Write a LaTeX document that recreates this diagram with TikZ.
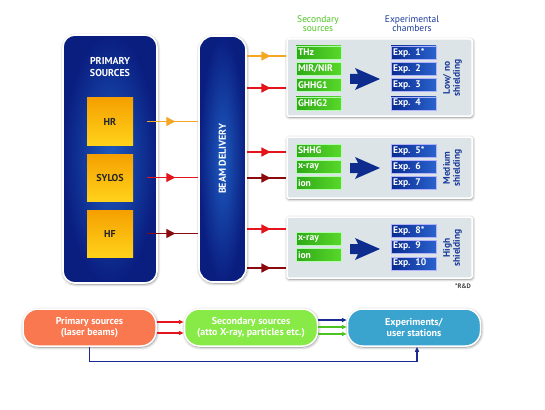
\documentclass[tikz,border=0pt]{standalone}
\usepackage{fontspec}
\setmainfont{PT Sans}
\usetikzlibrary{arrows.meta,decorations.markings,shadows.blur}
\definecolor{navyD}{HTML}{0A1E80}
\definecolor{navyL}{HTML}{1E5BC0}
\definecolor{yelT}{HTML}{F5A000}
\definecolor{yelB}{HTML}{FFD21A}
\definecolor{orangeA}{HTML}{F5A623}
\definecolor{redA}{HTML}{E3141C}
\definecolor{dredA}{HTML}{8A0A0E}
\definecolor{panelC}{HTML}{DDE4E7}
\definecolor{greenL}{HTML}{2FA818}
\definecolor{greenR}{HTML}{58D82A}
\definecolor{expL}{HTML}{0A2C90}
\definecolor{expR}{HTML}{2A62CC}
\definecolor{hdrG}{HTML}{4CC320}
\definecolor{hdrB}{HTML}{1B3A9A}
\definecolor{salmon}{HTML}{F97850}
\definecolor{lime}{HTML}{88EA46}
\definecolor{sky}{HTML}{3AA4CF}
\definecolor{linkB}{HTML}{1A2A90}
\definecolor{arrowB}{HTML}{0D2C8E}
\tikzset{
  shad/.style={blur shadow={shadow xshift=0.6pt, shadow yshift=-1pt, shadow blur steps=6, shadow blur radius=3pt, shadow opacity=50}},
  bigbox/.style={draw=white, line width=1.6pt, rounded corners=12pt, inner color=navyL, outer color=navyD, shad},
  yelbox/.style={minimum width=46pt, minimum height=47pt, top color=yelT, bottom color=yelB, text=black!85, font=\bfseries\fontsize{10}{12}\selectfont},
  panel/.style={fill=panelC, draw=white, line width=1.5pt, rounded corners=1.5pt, minimum width=185pt, shad},
  secbox/.style={left color=greenL, right color=greenR, draw=white!70!green, line width=0.6pt, minimum height=13pt, text width=41pt, inner xsep=2pt, inner ysep=0pt, align=left, text=white, font=\bfseries\fontsize{9.6}{10}\selectfont},
  expbox/.style={left color=expL, right color=expR, draw=white!70!blue, line width=0.6pt, minimum height=13pt, text width=41pt, inner xsep=2pt, inner ysep=0pt, align=left, text=white, font=\bfseries\fontsize{9.6}{10}\selectfont},
  shield/.style={rotate=90, align=center, text=hdrB, font=\bfseries\fontsize{9.5}{10}\selectfont, inner sep=0pt},
  hdr/.style={align=center, font=\fontsize{9.5}{9}\selectfont, inner sep=0pt},
  beamarrow/.style={line width=1.4pt, postaction={decorate}, decoration={markings, mark=at position #1 with {\arrow{Triangle[length=9pt,width=9pt]}}}},
  pill/.style={draw=white, line width=1.5pt, rounded corners=15pt, minimum width=133pt, minimum height=37pt, text=white, align=center, font=\bfseries\fontsize{10}{10.5}\selectfont, shad},
  barrow/.style={line width=1.2pt, -{Triangle[length=5pt,width=4pt]}},
}
\begin{document}
\begin{tikzpicture}[x=1pt, y=-1pt]
\useasboundingbox (0,0) rectangle (545,409);
% primary sources
\node[bigbox, minimum width=94pt, minimum height=248pt] (prim) at (110,159) {};
\node[text=white, align=center, font=\bfseries\fontsize{10}{12}\selectfont] (primt) at (110,67) {PRIMARY\\SOURCES};
\node[yelbox] (hr) at (110,121.5) {HR};
\node[yelbox] (sylos) at (110,177.5) {SYLOS};
\node[yelbox] (hf) at (110,233.5) {HF};
% beam delivery
\node[bigbox, rounded corners=14pt, minimum width=47pt, minimum height=246pt] (beam) at (222.5,159) {};
\node[rotate=90, text=white, font=\bfseries\fontsize{10}{12}\selectfont] (beamt) at (beam.center) {BEAM DELIVERY};
% arrows into beam delivery
\coordinate (hrS) at ([xshift=14pt]hr.east);
\coordinate (syS) at ([xshift=14pt]sylos.east);
\coordinate (hfS) at ([xshift=14pt]hf.east);
\draw[beamarrow=0.55, orangeA] (hrS) -- (hrS -| beam.west);
\draw[beamarrow=0.55, redA] (syS) -- (syS -| beam.west);
\draw[beamarrow=0.55, dredA] (hfS) -- (hfS -| beam.west);
% headers
\node[hdr, text=hdrG] (hsec) at (318,24) {Secondary\\sources};
\node[hdr, text=hdrB] (hexp) at (412,24) {Experimental\\chambers};
% panels
\node[panel, minimum height=77pt] (p1) at (379.5,77.5) {};
\node[panel, minimum height=61pt] (p2) at (379.5,167.5) {};
\node[panel, minimum height=61pt] (p3) at (379.5,247.5) {};
% secondary sources
\node[secbox] (s1) at (318.5,52.5) {THz};
\node[secbox] (s2) at (318.5,69) {MIR/NIR};
\node[secbox] (s3) at (318.5,85) {GHHG1};
\node[secbox] (s4) at (318.5,103.5) {GHHG2};
\node[secbox] (s5) at (318.5,150.5) {SHHG};
\node[secbox] (s6) at (318.5,167) {x-ray};
\node[secbox] (s7) at (318.5,183) {ion};
\node[secbox] (s8) at (318.5,239) {x-ray};
\node[secbox] (s9) at (318.5,255) {ion};
% experiments
\node[expbox] (e1) at (413.5,52.5) {Exp. 1*};
\node[expbox] (e2) at (413.5,69) {Exp. 2};
\node[expbox] (e3) at (413.5,85) {Exp. 3};
\node[expbox] (e4) at (413.5,103.5) {Exp. 4};
\node[expbox] (e5) at (413.5,150.5) {Exp. 5*};
\node[expbox] (e6) at (413.5,167) {Exp. 6};
\node[expbox] (e7) at (413.5,183) {Exp. 7};
\node[expbox] (e8) at (413.5,230.5) {Exp. 8*};
\node[expbox] (e9) at (413.5,246.5) {Exp. 9};
\node[expbox] (e10) at (413.5,263.5) {Exp. 10};
% big arrows
\foreach \cy in {79,168,249}{
  \fill[arrowB, shift={(365,\cy)}] (-15,-5) -- (-7,-5) -- (-10,-11) -- (15,0) -- (-10,11) -- (-7,5) -- (-15,5) -- cycle;
}
% shielding labels
\node[shield] (sh1) at (452.5,78) {Low/ no\\shielding};
\node[shield] (sh2) at (452.5,168) {Medium\\shielding};
\node[shield] (sh3) at (452.5,248) {High\\shielding};
\node[text=black!75, font=\bfseries\fontsize{6.5}{7}\selectfont, inner sep=0pt] (rd) at (463,286) {*R\&D};
% arrows out of beam delivery
\coordinate (y1) at (0,56);
\coordinate (y2) at (0,88);
\coordinate (y3) at (0,152);
\coordinate (y4) at (0,178);
\coordinate (y5) at (0,229);
\coordinate (y6) at (0,268);
\draw[beamarrow=0.6, orangeA] (beam.east |- y1) -- (p1.west |- y1);
\draw[beamarrow=0.6, redA] (beam.east |- y2) -- (p1.west |- y2);
\draw[beamarrow=0.6, redA] (beam.east |- y3) -- (p2.west |- y3);
\draw[beamarrow=0.6, dredA] (beam.east |- y4) -- (p2.west |- y4);
\draw[beamarrow=0.6, redA] (beam.east |- y5) -- (p3.west |- y5);
\draw[beamarrow=0.6, dredA] (beam.east |- y6) -- (p3.west |- y6);
% bottom flow
\node[pill, fill=salmon] (prim2) at (89.5,327.5) {Primary sources\\(laser beams)};
\node[pill, fill=lime] (sec2) at (251,327.5) {Secondary sources\\(atto X-ray, particles etc.)};
\node[pill, fill=sky] (exp2) at (414,327.5) {Experiments/\\user stations};
\draw[barrow, redA] ([yshift=5.5pt]prim2.east) -- ([yshift=5.5pt]prim2.east -| sec2.west);
\draw[barrow, redA] ([yshift=-5.5pt]prim2.east) -- ([yshift=-5.5pt]prim2.east -| sec2.west);
\draw[barrow, linkB] ([yshift=7.5pt]sec2.east) -- ([yshift=7.5pt]sec2.east -| exp2.west);
\draw[barrow, hdrG] ([yshift=0.5pt]sec2.east) -- ([yshift=0.5pt]sec2.east -| exp2.west);
\draw[barrow, hdrG] ([yshift=-6.5pt]sec2.east) -- ([yshift=-6.5pt]sec2.east -| exp2.west);
\draw[barrow, linkB] (prim2.south) -- ++(0,15) -| ([xshift=3pt]exp2.south);
\end{tikzpicture}
\end{document}
